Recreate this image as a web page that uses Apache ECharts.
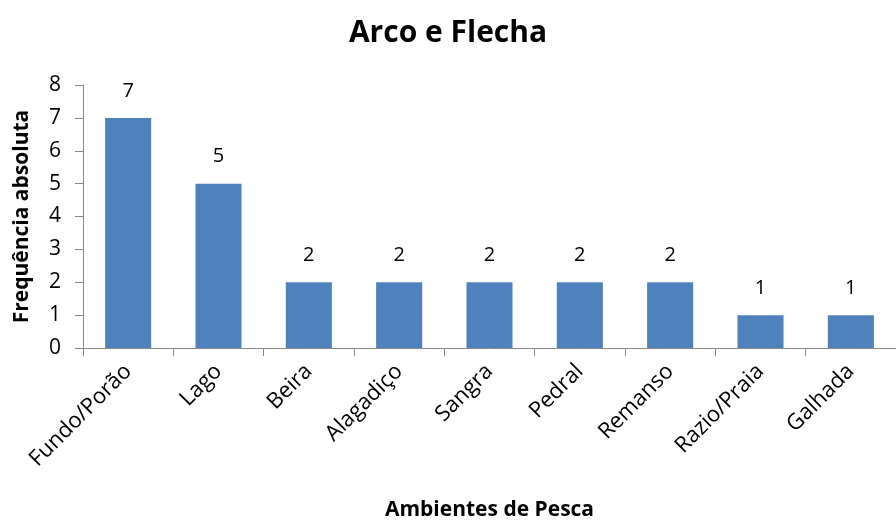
<!DOCTYPE html>
<html><head><meta charset="utf-8">
<script src="https://cdn.jsdelivr.net/npm/echarts@6/dist/echarts.min.js"></script>
<style>html,body{margin:0;padding:0;background:#fff}#c{width:896px;height:522px}</style>
</head><body><div id="c"></div>
<script>
const categories = ["Fundo/Porão","Lago","Beira","Alagadiço","Sangra","Pedral","Remanso","Razio/Praia","Galhada"];
const values = [7,5,2,2,2,2,2,1,1];
const yTicks = [0,1,2,3,4,5,6,7,8];
const FONT = "'Open Sans',sans-serif";
const chart = echarts.init(document.getElementById('c'), null, {renderer:'canvas'});
chart.setOption({
  animation:false,
  title:{text:'Arco e Flecha',left:'center',top:13,textStyle:{fontFamily:FONT,fontWeight:'bold',fontSize:30,color:'#000'}},
  grid:{left:83,right:0,top:85,bottom:174,outerBoundsMode:'none',containLabel:false},
  xAxis:{type:'category',data:categories,
    name:'Ambientes de Pesca',nameLocation:'middle',nameGap:152,
    nameTextStyle:{fontFamily:FONT,fontWeight:'bold',fontSize:21,color:'#000'},
    axisLine:{lineStyle:{color:'#888',width:1}},
    axisTick:{show:true,length:8,lineStyle:{color:'#888'}},
    axisLabel:{rotate:45,margin:20,interval:0,fontFamily:FONT,fontSize:22,color:'#000'}},
  yAxis:{type:'value',min:0,max:8,interval:1,
    name:'Frequência absoluta',nameLocation:'middle',nameGap:50,
    nameTextStyle:{fontFamily:FONT,fontWeight:'bold',fontSize:21,color:'#000'},
    axisLine:{show:true,lineStyle:{color:'#888',width:1}},
    axisTick:{show:true,length:8,lineStyle:{color:'#888'}},
    splitLine:{show:false},
    axisLabel:{margin:22,fontFamily:FONT,fontSize:21,color:'#000',
      formatter:v=>yTicks.includes(v)?String(v):''}},
  series:[{type:'bar',data:values,barWidth:'51%',
    itemStyle:{color:'#4F81BD'},
    label:{show:true,position:'top',distance:17,fontFamily:FONT,fontSize:20,color:'#000'}}]
});
</script></body></html>
